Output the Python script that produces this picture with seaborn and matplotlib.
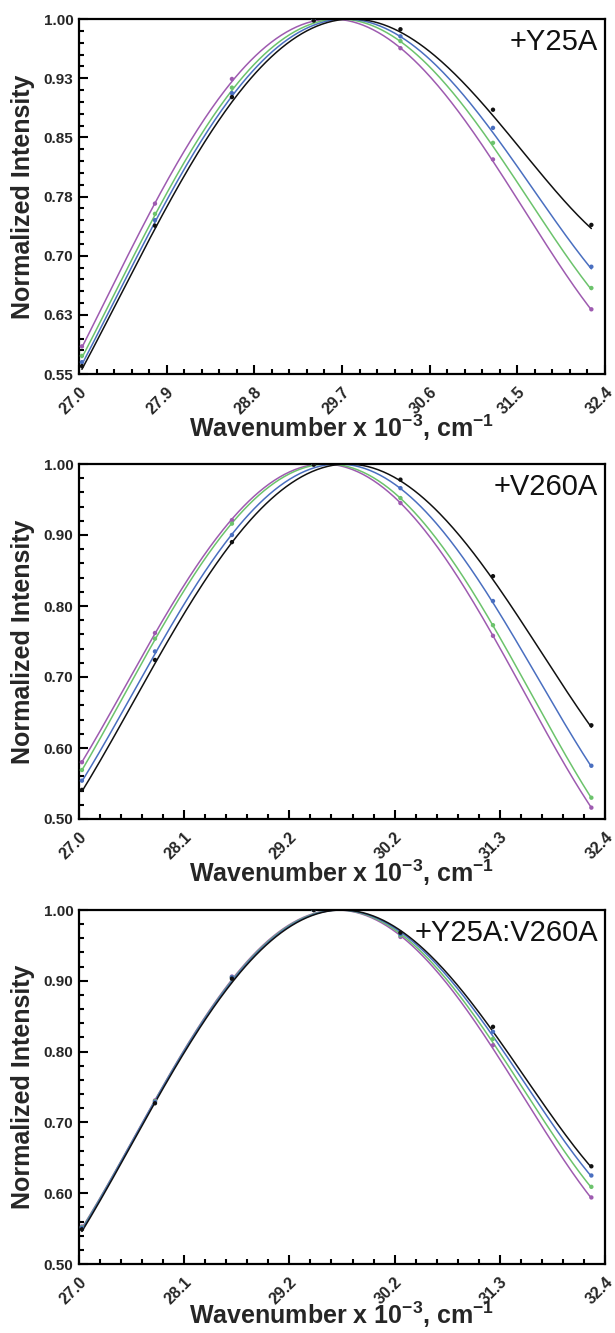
import numpy as np
import pandas as pd
import matplotlib
matplotlib.use("Agg")
import matplotlib.pyplot as plt
from matplotlib.ticker import AutoMinorLocator, FixedLocator
import matplotlib.transforms as mtransforms
import seaborn as sns

# ---------------- data ----------------
wavenumber = [27.03, 27.78, 28.57, 29.41, 30.30, 31.25, 32.26]  # x 10^3 cm^-1
series_names = ["magenta", "green", "blue", "black"]

y25a_black = [0.560, 0.738, 0.901, 0.998, 0.987, 0.885, 0.739]
y25a_blue = [0.565, 0.745, 0.906, 1.000, 0.978, 0.862, 0.686]
y25a_green = [0.573, 0.753, 0.913, 1.000, 0.972, 0.843, 0.659]
y25a_magenta = [0.585, 0.766, 0.924, 0.999, 0.963, 0.822, 0.632]

v260a_black = [0.541, 0.724, 0.890, 0.999, 0.978, 0.842, 0.632]
v260a_blue = [0.554, 0.736, 0.900, 1.000, 0.966, 0.807, 0.575]
v260a_green = [0.569, 0.754, 0.916, 1.000, 0.952, 0.773, 0.530]
v260a_magenta = [0.580, 0.762, 0.921, 1.000, 0.945, 0.758, 0.516]

dbl_black = [0.549, 0.727, 0.903, 1.000, 0.968, 0.835, 0.638]
dbl_blue = [0.551, 0.729, 0.905, 1.000, 0.966, 0.828, 0.625]
dbl_green = [0.552, 0.730, 0.905, 1.000, 0.964, 0.818, 0.609]
dbl_magenta = [0.553, 0.731, 0.906, 1.000, 0.962, 0.809, 0.594]

panel_titles = ["+Y25A", "+V260A", "+Y25A:V260A"]

xticks_top = [27.0, 27.9, 28.8, 29.7, 30.6, 31.5, 32.4]
xticklabels_top = ["27.0", "27.9", "28.8", "29.7", "30.6", "31.5", "32.4"]
xticks_lower = [27.0, 28.08, 29.16, 30.24, 31.32, 32.4]
xticklabels_lower = ["27.0", "28.1", "29.2", "30.2", "31.3", "32.4"]

yticks_top = [0.55, 0.625, 0.70, 0.775, 0.85, 0.925, 1.00]
yticklabels_top = ["0.55", "0.63", "0.70", "0.78", "0.85", "0.93", "1.00"]
yticks_lower = [0.50, 0.60, 0.70, 0.80, 0.90, 1.00]
yticklabels_lower = ["0.50", "0.60", "0.70", "0.80", "0.90", "1.00"]

panels = [
    dict(data={"black": y25a_black, "blue": y25a_blue, "green": y25a_green, "magenta": y25a_magenta},
         ylim=(0.55, 1.0), xticks=xticks_top, xticklabels=xticklabels_top,
         yticks=yticks_top, yticklabels=yticklabels_top, title=panel_titles[0]),
    dict(data={"black": v260a_black, "blue": v260a_blue, "green": v260a_green, "magenta": v260a_magenta},
         ylim=(0.50, 1.0), xticks=xticks_lower, xticklabels=xticklabels_lower,
         yticks=yticks_lower, yticklabels=yticklabels_lower, title=panel_titles[1]),
    dict(data={"black": dbl_black, "blue": dbl_blue, "green": dbl_green, "magenta": dbl_magenta},
         ylim=(0.50, 1.0), xticks=xticks_lower, xticklabels=xticklabels_lower,
         yticks=yticks_lower, yticklabels=yticklabels_lower, title=panel_titles[2]),
]

palette = {"black": "#111111", "blue": "#4a6fc0", "green": "#6cc36c", "magenta": "#9e5bb0"}

# ---------------- style ----------------
sns.set_style("ticks")
plt.rcParams["font.family"] = ["Liberation Sans", "DejaVu Sans"]
plt.rcParams["mathtext.fontset"] = "custom"
plt.rcParams["mathtext.rm"] = "Liberation Sans:bold"
plt.rcParams["mathtext.bf"] = "Liberation Sans:bold"
plt.rcParams["mathtext.default"] = "rm"

fig = plt.figure(figsize=(6.15, 13.33), dpi=100)
fig.patch.set_facecolor("white")

L, W = 79 / 615, 526 / 615
tops_px = [19, 464, 910]
bottoms_px = [374, 819, 1264]
xlabel_offsets = [-0.108, -0.108, -0.100]

for i, p in enumerate(panels):
    b = 1 - bottoms_px[i] / 1333
    h = (bottoms_px[i] - tops_px[i]) / 1333
    ax = fig.add_axes([L, b, W, h])
    ax.set_facecolor("white")

    pts = []
    curves = []
    xfine = np.linspace(min(wavenumber), max(wavenumber), 300)
    for name in series_names:
        yv = np.array(p["data"][name])
        for xv, yy in zip(wavenumber, yv):
            pts.append((name, xv, yy))
        coef = np.polyfit(wavenumber, yv, 4)
        yc = np.polyval(coef, xfine)
        yc = yc / yc.max()
        for xv, yy in zip(xfine, yc):
            curves.append((name, xv, yy))
    pts_df = pd.DataFrame(pts, columns=["series", "x", "y"])
    cur_df = pd.DataFrame(curves, columns=["series", "x", "y"])

    sns.lineplot(data=cur_df, x="x", y="y", hue="series", hue_order=series_names,
                 palette=palette, estimator=None, sort=False, linewidth=1.1,
                 legend=False, ax=ax)
    sns.scatterplot(data=pts_df, x="x", y="y", hue="series", hue_order=series_names,
                    palette=palette, s=10, linewidth=0, legend=False, ax=ax, zorder=3)

    ax.set_xlim(27.0, 32.4)
    ax.set_ylim(*p["ylim"])
    ax.xaxis.set_major_locator(FixedLocator(p["xticks"]))
    ax.set_xticklabels(p["xticklabels"], rotation=45, ha="center",
                       fontsize=11.5, fontweight="bold")
    ax.yaxis.set_major_locator(FixedLocator(p["yticks"]))
    ax.set_yticklabels(p["yticklabels"], fontsize=11, fontweight="bold")
    ax.xaxis.set_minor_locator(AutoMinorLocator(5))
    ax.yaxis.set_minor_locator(AutoMinorLocator(5))
    ax.tick_params(axis="both", which="major", direction="in", length=6.5, width=1.5,
                   top=False, right=False, color="black")
    ax.tick_params(axis="both", which="minor", direction="in", length=3.6, width=1.5,
                   top=False, right=False, color="black")
    ax.tick_params(axis="x", which="major", pad=7.5)
    ax.tick_params(axis="y", which="major", pad=4)
    offset = mtransforms.ScaledTranslation(-6 / 100, 0, fig.dpi_scale_trans)
    for lab in ax.get_xticklabels():
        lab.set_transform(lab.get_transform() + offset)

    for s in ax.spines.values():
        s.set_linewidth(1.6)
        s.set_color("black")
        s.set_visible(True)

    ax.set_ylabel("Normalized Intensity", fontsize=18, fontweight="bold")
    ax.yaxis.set_label_coords(-0.084, 0.5)
    ax.set_xlabel(r"Wavenumber x 10$^{-3}$, cm$^{-1}$", fontsize=18, fontweight="bold")
    ax.xaxis.set_label_coords(0.5, xlabel_offsets[i])

    ax.text(0.987, 0.975, p["title"], transform=ax.transAxes, ha="right", va="top",
            fontsize=21, color="#111111")

fig.savefig("out.png", dpi=100, facecolor="white")
